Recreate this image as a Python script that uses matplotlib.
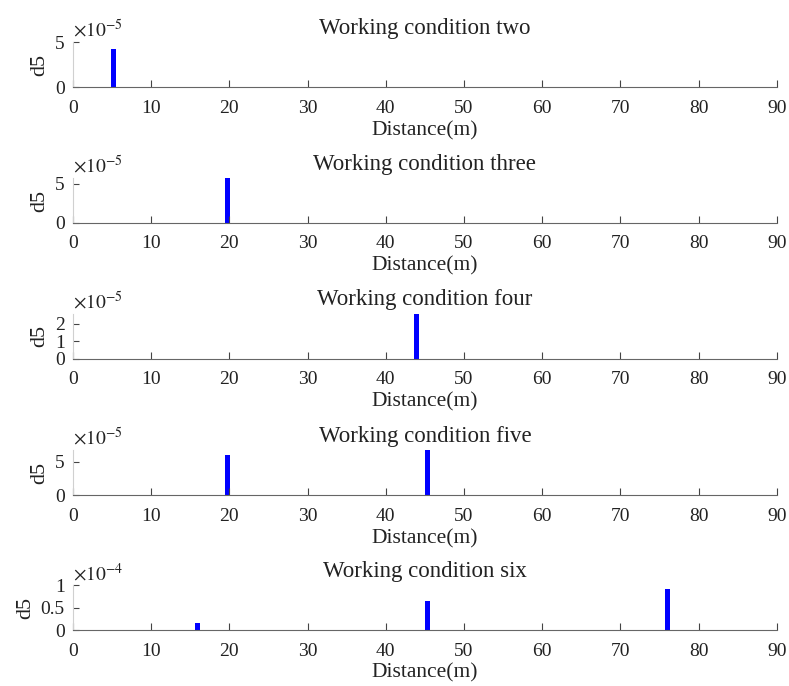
import numpy as np
import matplotlib
matplotlib.use("Agg")
import matplotlib.pyplot as plt
from matplotlib.ticker import FuncFormatter

plt.rcParams['font.family'] = ['Liberation Serif', 'DejaVu Serif']
plt.rcParams['mathtext.fontset'] = 'stix'

# d5 peaks per working condition (distance in m, value)
titles = ["Working condition two", "Working condition three", "Working condition four",
          "Working condition five", "Working condition six"]
pos_two = [5.2]
val_two = [4.2e-5]
pos_three = [19.8]
val_three = [5.75e-5]
pos_four = [43.9]
val_four = [2.57e-5]
pos_five = [19.8, 45.3]
val_five = [5.93e-5, 6.66e-5]
pos_six = [15.9, 45.3, 76.0]
val_six = [0.147e-4, 0.656e-4, 0.91e-4]

exponents = [-5, -5, -5, -5, -4]
ytick_sets = [[0, 5e-5], [0, 5e-5], [0, 1e-5, 2e-5], [0, 5e-5], [0, 0.5e-4, 1e-4]]
ytops = [5e-5, 5.75e-5, 2.57e-5, 6.66e-5, 1e-4]
xticks = list(range(0, 91, 10))

positions = [pos_two, pos_three, pos_four, pos_five, pos_six]
values = [val_two, val_three, val_four, val_five, val_six]

fig = plt.figure(figsize=(7.89, 6.86), dpi=100)
bottoms = [0.873, 0.675, 0.477, 0.278, 0.0816]

for i in range(5):
    ax = fig.add_axes([0.0925, bottoms[i], 0.892, 0.0656])
    ax.bar(positions[i], values[i], width=0.65, color="blue")
    ax.set_xlim(0, 90)
    ax.set_ylim(0, ytops[i])
    ax.set_xticks(xticks)
    ax.set_yticks(ytick_sets[i])
    e = exponents[i]
    ax.yaxis.set_major_formatter(FuncFormatter(lambda v, p, e=e: "%g" % round(v / 10.0**e, 6)))
    for s in ["top", "right"]:
        ax.spines[s].set_visible(False)
    ax.spines["bottom"].set_color("#666666")
    ax.spines["left"].set_color("#d0d0d0")
    ax.tick_params(axis="x", direction="in", length=5, color="#444444", labelsize=14,
                   pad=9, labelcolor="#222222")
    ax.tick_params(axis="y", direction="in", length=4, color="#444444", labelsize=14,
                   pad=6, labelcolor="#222222")
    ax.set_xlabel("Distance(m)", fontsize=15.5, labelpad=3, color="#222222")
    ax.set_ylabel("d5", fontsize=16, labelpad=4, color="#222222")
    ax.set_title(titles[i], fontsize=16.5, pad=6, color="#222222")
    ax.text(0.0, 1.02, r"$\times10^{%d}$" % e, transform=ax.transAxes, fontsize=14,
            ha="left", va="bottom", color="#222222")

fig.savefig("out.png", dpi=100)
